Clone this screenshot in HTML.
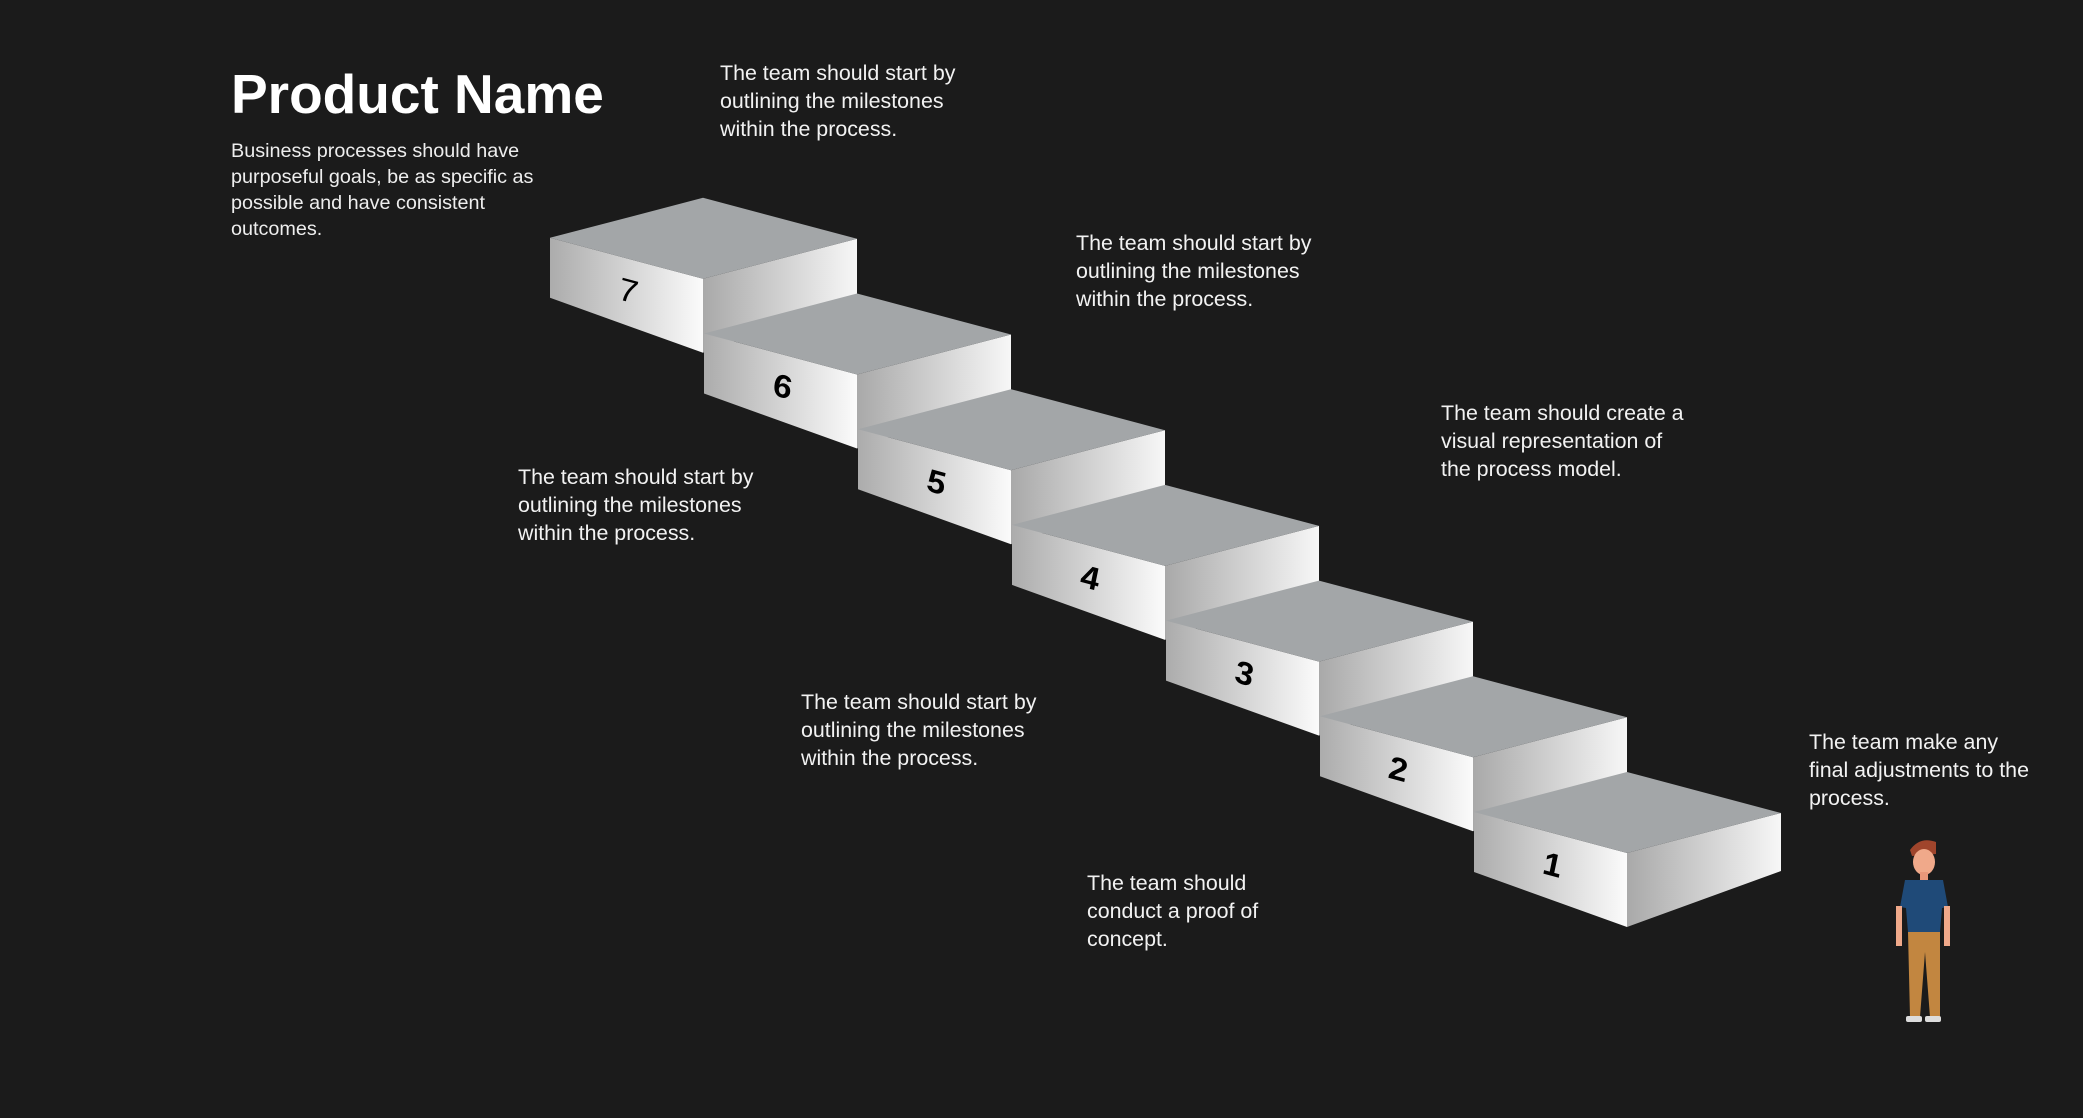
<!DOCTYPE html>
<html><head><meta charset="utf-8"><style>
html,body{margin:0;padding:0;background:#1b1b1b;}
#root{position:relative;width:2083px;height:1118px;background:#1b1b1b;overflow:hidden;font-family:"Liberation Sans",sans-serif;color:#fff;}
.t{position:absolute;font-size:21.4px;line-height:28px;color:#f2f2f2;}
</style></head><body>
<div id="root">
<div style="position:absolute;left:231px;top:64px;font-size:55px;line-height:60px;font-weight:bold;">Product Name</div>
<div style="position:absolute;left:231px;top:138px;font-size:19.8px;line-height:26px;color:#eee;">Business processes should have<br>purposeful goals, be as specific as<br>possible and have consistent<br>outcomes.</div>
<div class="t" style="left:720px;top:59px;">The team should start by<br>outlining the milestones<br>within the process.</div>
<div class="t" style="left:1076px;top:229px;">The team should start by<br>outlining the milestones<br>within the process.</div>
<div class="t" style="left:1441px;top:399px;">The team should create a<br>visual representation of<br>the process model.</div>
<div class="t" style="left:518px;top:463px;">The team should start by<br>outlining the milestones<br>within the process.</div>
<div class="t" style="left:801px;top:688px;">The team should start by<br>outlining the milestones<br>within the process.</div>
<div class="t" style="left:1809px;top:728px;">The team make any<br>final adjustments to the<br>process.</div>
<div class="t" style="left:1087px;top:869px;">The team should<br>conduct a proof of<br>concept.</div>
<svg id="stairs" width="2083" height="1118" style="position:absolute;left:0;top:0;">
<defs>
<linearGradient id="gl" x1="0" x2="1" y1="0" y2="0"><stop offset="0" stop-color="#acacac"/><stop offset="1" stop-color="#fbfbfb"/></linearGradient>
<linearGradient id="gr" x1="0" x2="1" y1="0" y2="0"><stop offset="0" stop-color="#a9a9a9"/><stop offset="1" stop-color="#f7f7f7"/></linearGradient>
</defs>
</svg>
<svg width="100" height="200" style="position:absolute;left:1880px;top:832px;" viewBox="0 0 100 200">
<path d="M30 18 Q40 4 56 10 L56 22 L32 24Z" fill="#a0452c"/>
<ellipse cx="44" cy="30" rx="11" ry="13" fill="#f0a98a"/>
<rect x="40" y="40" width="8" height="8" fill="#e8977a"/>
<path d="M25 48 L63 48 L68 75 L62 76 L60 100 L28 100 L26 76 L20 75Z" fill="#1f4a78"/>
<rect x="16" y="74" width="6" height="40" fill="#f0a98a"/>
<rect x="64" y="74" width="6" height="40" fill="#f0a98a"/>
<path d="M28 100 L60 100 L60 185 L50 185 L45 120 L40 185 L30 185Z" fill="#c28640"/>
<rect x="26" y="184" width="16" height="6" rx="2" fill="#ddd"/>
<rect x="45" y="184" width="16" height="6" rx="2" fill="#ddd"/>
</svg>
</div>
<script>
const stepLabels = ["1","2","3","4","5","6","7"];
const stepIndex = [1,2,3,4,5,6,7];
const svg = document.getElementById('stairs');
const NS = 'http://www.w3.org/2000/svg';
function sx(n){ return 1474 - (n-1)*154; }
function sy(n){ return 812 - (n-1)*95.7; }
function poly(pts, fill, name){
  const p = document.createElementNS(NS,'polygon');
  p.setAttribute('points', pts.map(a=>a.join(',')).join(' '));
  p.setAttribute('fill', fill);
  
  
  svg.appendChild(p);
}
for (let i = stepIndex.length-1; i >= 0; i--) {
  const n = stepIndex[i];
  const L = sx(n), T = sy(n);
  poly([[L+153,T+41],[L+307,T+1],[L+307,T+59],[L+153,T+115]], 'url(#gr)', 'step-right-face');
  poly([[L,T],[L+153,T+41],[L+153,T+115],[L,T+60]], 'url(#gl)', 'step-front-face');
  poly([[L,T],[L+153,T-40],[L+307,T+1],[L+153,T+41]], '#a3a6a8', 'step-top-face');
  const t = document.createElementNS(NS,'text');
  
  
  t.setAttribute('x', 0); t.setAttribute('y', 0);
  t.setAttribute('transform', `translate(${L+78},${T+64}) skewY(15)`);
  t.setAttribute('text-anchor','middle');
  t.setAttribute('font-family','Liberation Sans, sans-serif');
  t.setAttribute('font-size','33');
  t.setAttribute('font-style','italic');
  t.setAttribute('font-weight', n===7 ? 'normal' : 'bold');
  t.setAttribute('fill','#000');
  t.textContent = stepLabels[i];
  svg.appendChild(t);
}
</script>
</body></html>
